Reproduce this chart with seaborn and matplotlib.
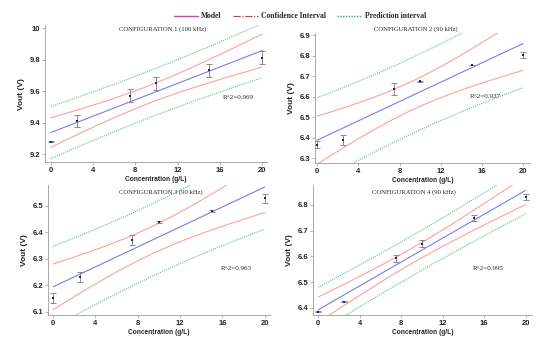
import numpy as np
import matplotlib
matplotlib.use("Agg")
import matplotlib.pyplot as plt
from matplotlib.lines import Line2D
import seaborn as sns

# concentration levels (g/L), shared by all configurations
conc = [0, 2.5, 7.5, 10, 15, 20]

# measured Vout (V) and error bar half-widths per configuration
vout_cfg1 = [9.278, 9.41, 9.571, 9.65, 9.732, 9.813]
err_cfg1 = [0.004, 0.04, 0.04, 0.04, 0.04, 0.04]
vout_cfg2 = [6.366, 6.387, 6.637, 6.676, 6.755, 6.804]
err_cfg2 = [0.016, 0.025, 0.03, 0.002, 0.002, 0.015]
vout_cfg3 = [6.152, 6.231, 6.371, 6.44, 6.48, 6.528]
err_cfg3 = [0.019, 0.018, 0.019, 0.003, 0.003, 0.018]
vout_cfg4 = [6.385, 6.424, 6.592, 6.65, 6.748, 6.832]
err_cfg4 = [0.003, 0.003, 0.013, 0.012, 0.012, 0.012]

titles = ["CONFIGURATION 1 (100 kHz)", "CONFIGURATION 2 (90 kHz)",
          "CONFIGURATION 3 (90 kHz)", "CONFIGURATION 4 (90 kHz)"]
r2_labels = ["R^2=0.969", "R^2=0.937", "R^2=0.963", "R^2=0.995"]

T_975_DF4 = 2.7764  # student t, 95 %, n-2 = 4 dof

sns.set_theme(style="ticks")
plt.rcParams['font.family'] = ['Liberation Sans', 'DejaVu Sans']

C_MODEL = '#7b7bef'
C_CI = '#ff9f9f'
C_PI = '#5cc08e'
C_PT = '#1c1c9c'


def fit_bands(x, y):
    # ordinary least squares + 95 % confidence / prediction bands
    x = np.asarray(x, float)
    y = np.asarray(y, float)
    n = len(x)
    b, a = np.polyfit(x, y, 1)
    s = np.sqrt(np.sum((y - (a + b * x)) ** 2) / (n - 2))
    sxx = np.sum((x - x.mean()) ** 2)
    xs = np.linspace(x.min(), x.max(), 200)
    fit = a + b * xs
    ci = T_975_DF4 * s * np.sqrt(1 / n + (xs - x.mean()) ** 2 / sxx)
    pi = T_975_DF4 * s * np.sqrt(1 + 1 / n + (xs - x.mean()) ** 2 / sxx)
    return xs, fit, ci, pi


fig = plt.figure(figsize=(5.5, 3.5), dpi=100)

# [left, bottom, width, height] in figure fractions
boxes = [[0.082, 0.537, 0.404, 0.391],
         [0.573, 0.534, 0.391, 0.371],
         [0.087, 0.100, 0.404, 0.371],
         [0.569, 0.100, 0.398, 0.371]]
ylims = [(9.149, 10.02), (6.276, 6.91), (6.088, 6.578), (6.372, 6.877)]
xlims = [(-0.54, 20.5), (-0.2, 20.7), (-0.5, 20.5), (-0.51, 20.6)]
yticks = [[9.2, 9.4, 9.6, 9.8, 10.0],
          [6.3, 6.4, 6.5, 6.6, 6.7, 6.8, 6.9],
          [6.1, 6.2, 6.3, 6.4, 6.5],
          [6.4, 6.5, 6.6, 6.7, 6.8]]
ytick_labels = [["9.2", "9.4", "9.6", "9.8", "10"],
                ["6.3", "6.4", "6.5", "6.6", "6.7", "6.8", "6.9"],
                ["6.1", "6.2", "6.3", "6.4", "6.5"],
                ["6.4", "6.5", "6.6", "6.7", "6.8"]]
title_pos = [(0.53, 0.97), (0.47, 1.03), (0.51, 0.95), (0.46, 0.95)]
r2_pos = [(0.80, 0.47), (0.72, 0.51), (0.78, 0.36), (0.73, 0.36)]

all_v = [vout_cfg1, vout_cfg2, vout_cfg3, vout_cfg4]
all_e = [err_cfg1, err_cfg2, err_cfg3, err_cfg4]

for i in range(4):
    ax = fig.add_axes(boxes[i])
    xs, fit, ci, pi = fit_bands(conc, all_v[i])

    sns.lineplot(x=xs, y=fit + pi, ax=ax, color=C_PI, lw=0.8, linestyle=(0, (1, 1)))
    sns.lineplot(x=xs, y=fit - pi, ax=ax, color=C_PI, lw=0.8, linestyle=(0, (1, 1)))
    sns.lineplot(x=xs, y=fit + ci, ax=ax, color=C_CI, lw=0.8)
    sns.lineplot(x=xs, y=fit - ci, ax=ax, color=C_CI, lw=0.8)
    sns.lineplot(x=xs, y=fit, ax=ax, color=C_MODEL, lw=0.8)

    ax.errorbar(conc, all_v[i], yerr=all_e[i], fmt='none', ecolor='#8a8a8a',
                elinewidth=0.7, capsize=2, capthick=0.7, zorder=3)
    sns.scatterplot(x=conc, y=all_v[i], ax=ax, color=C_PT, marker='s', s=3,
                    linewidth=0, zorder=4)

    ax.set_xlim(*xlims[i])
    ax.set_ylim(*ylims[i])
    ax.set_xticks([0, 4, 8, 12, 16, 20])
    ax.set_yticks(yticks[i])
    ax.set_yticklabels(ytick_labels[i])
    sns.despine(ax=ax)
    for sp in ['left', 'bottom']:
        ax.spines[sp].set_color('#9a9a9a')
        ax.spines[sp].set_linewidth(0.6)
    ax.tick_params(labelsize=5.5, length=2, width=0.5, pad=1.5, color='#9a9a9a')
    for lbl in ax.get_xticklabels() + ax.get_yticklabels():
        lbl.set_fontweight('bold')
    ax.set_ylabel("Vout (V)", fontsize=6, fontweight='bold', labelpad=3)
    ax.set_xlabel("Concentration (g/L)", fontsize=4.8, fontweight='bold', labelpad=1.5)

    ax.text(title_pos[i][0], title_pos[i][1], titles[i], transform=ax.transAxes,
            ha='center', va='center', fontsize=4.8, family='Liberation Serif')
    ax.text(r2_pos[i][0], r2_pos[i][1], r2_labels[i], transform=ax.transAxes,
            ha='left', va='center', fontsize=5, family='Liberation Serif')

handles = [Line2D([], [], color='#d23cd2', lw=1.0),
           Line2D([], [], color='#c83c3c', lw=0.8, linestyle='-.'),
           Line2D([], [], color='#2eaa6a', lw=1.0, linestyle=(0, (1, 1)))]
fig.legend(handles, ["Model", "Confidence Interval", "Prediction interval"],
           loc='center', bbox_to_anchor=(0.545, 0.953), ncol=3, frameon=False,
           handlelength=3.2, columnspacing=1.5, handletextpad=0.4,
           prop={'family': 'Liberation Serif', 'weight': 'bold', 'size': 5.5})

fig.savefig("out.png", dpi=100, facecolor='white')
